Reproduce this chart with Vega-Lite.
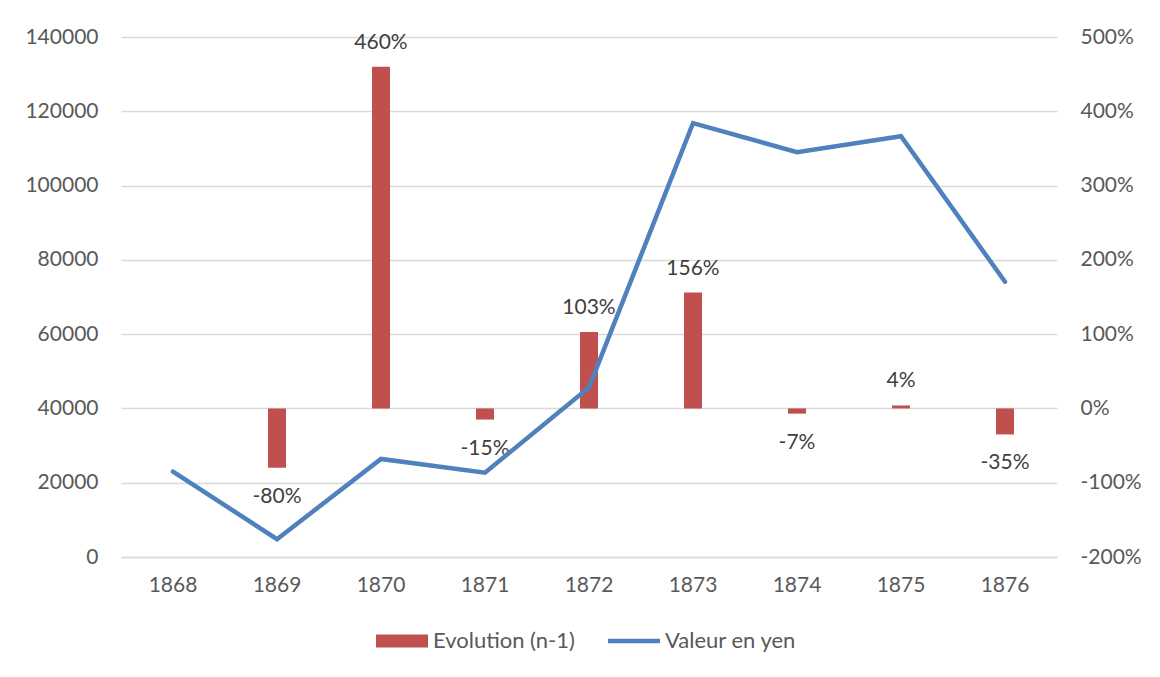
{
  "$schema": "https://vega.github.io/schema/vega-lite/v6.json",
  "width": 936,
  "height": 520,
  "autosize": {"type": "none"},
  "padding": {"left": 121, "top": 37, "right": 103, "bottom": 120},
  "background": "white",
  "config": {
    "font": "Lato",
    "view": {"stroke": null},
    "locale": {"number": {"decimal": ".", "thousands": "", "grouping": [3], "currency": ["", ""], "minus": "-"}},
    "axis": {"labelFont": "Lato", "labelFontSize": 21, "labelColor": "#595959", "ticks": false, "title": null, "gridColor": "#D9D9D9", "gridWidth": 1.5, "domain": false}
  },
  "data": {"values": [
    {"year": "1868", "pct": null, "yen": 23000},
    {"year": "1869", "pct": -0.80, "yen": 4800},
    {"year": "1870", "pct": 4.60, "yen": 26400},
    {"year": "1871", "pct": -0.15, "yen": 22700},
    {"year": "1872", "pct": 1.03, "yen": 45650},
    {"year": "1873", "pct": 1.56, "yen": 116800},
    {"year": "1874", "pct": -0.07, "yen": 109000},
    {"year": "1875", "pct": 0.04, "yen": 113300},
    {"year": "1876", "pct": -0.35, "yen": 74100}
  ]},
  "encoding": {
    "x": {"field": "year", "type": "ordinal", "scale": {"type": "band", "paddingInner": 0, "paddingOuter": 0},
          "axis": {"labelAngle": 0, "labelPadding": 17, "domain": true, "domainColor": "#D9D9D9", "domainWidth": 1.5, "grid": false}}
  },
  "layer": [
    {
      "layer": [
        {
          "mark": {"type": "bar", "size": 18},
          "encoding": {
            "y": {"field": "pct", "type": "quantitative", "scale": {"domain": [-2, 5]},
                  "axis": {"orient": "right", "format": ".0%", "values": [-2, -1, 0, 1, 2, 3, 4, 5], "grid": true, "labelPadding": 23}},
            "color": {"datum": "Evolution (n-1)", "type": "nominal",
                      "scale": {"domain": ["Evolution (n-1)", "Valeur en yen"], "range": ["#C0504D", "#4F81BD"]},
                      "legend": {"orient": "none", "legendX": 255, "legendY": 578, "direction": "horizontal", "title": null,
                                 "labelFont": "Lato", "labelFontSize": 22, "labelColor": "#595959", "labelOffset": 5, "columnPadding": 33,
                                 "symbolSize": 2704, "symbolStrokeWidth": 0,
                                 "encode": {"symbols": {"update": {
                                   "shape": {"signal": "datum.value == 'Valeur en yen' ? 'M-1,-0.085H1V0.085H-1Z' : 'M-1,-0.25H1V0.25H-1Z'"},
                                   "fill": {"signal": "datum.value == 'Valeur en yen' ? '#4F81BD' : '#C0504D'"},
                                   "stroke": {"value": "transparent"},
                                   "opacity": {"value": 1}
                                 }}}}}
          }
        },
        {
          "transform": [{"filter": "datum.pct != null && datum.pct >= 0"}],
          "mark": {"type": "text", "baseline": "middle", "dy": -24, "fontSize": 21, "font": "Lato", "color": "#404040"},
          "encoding": {
            "y": {"field": "pct", "type": "quantitative"},
            "text": {"field": "pct", "type": "quantitative", "format": ".0%"}
          }
        },
        {
          "transform": [{"filter": "datum.pct != null && datum.pct < 0"}],
          "mark": {"type": "text", "baseline": "middle", "dy": 29, "fontSize": 21, "font": "Lato", "color": "#404040"},
          "encoding": {
            "y": {"field": "pct", "type": "quantitative"},
            "text": {"field": "pct", "type": "quantitative", "format": ".0%"}
          }
        }
      ]
    },
    {
      "mark": {"type": "line", "strokeWidth": 4.5, "strokeCap": "round", "strokeJoin": "miter"},
      "encoding": {
        "y": {"field": "yen", "type": "quantitative", "scale": {"domain": [0, 140000]},
              "axis": {"orient": "left", "format": "d", "values": [0, 20000, 40000, 60000, 80000, 100000, 120000, 140000], "grid": false, "labelPadding": 23}},
        "color": {"datum": "Valeur en yen", "type": "nominal"}
      }
    }
  ],
  "resolve": {"scale": {"y": "independent"}}
}
